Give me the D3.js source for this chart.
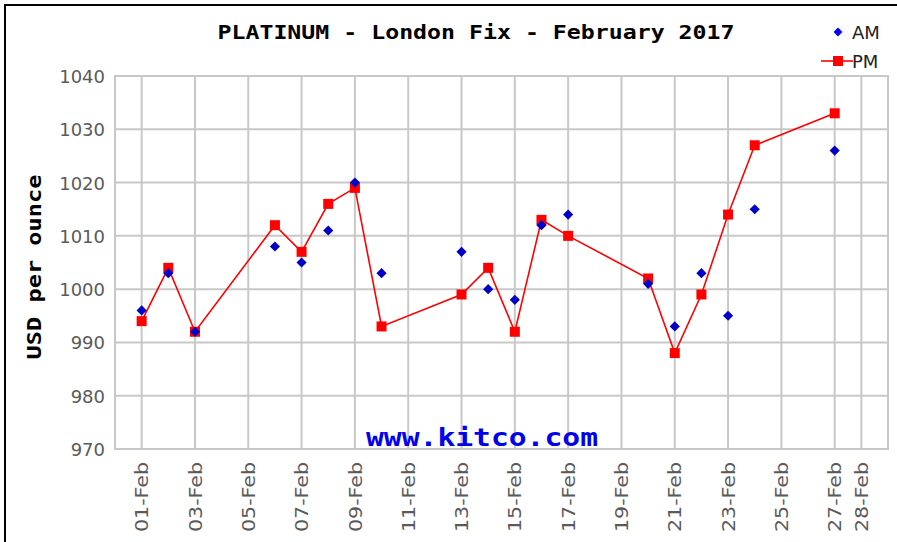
<!DOCTYPE html>
<html>
<head>
<meta charset="utf-8">
<script src="https://cdn.jsdelivr.net/npm/d3@7/dist/d3.min.js"></script>
<style>
  html, body { margin: 0; padding: 0; background: #fff; }
  svg { display: block; }
</style>
</head>
<body>
<svg id="chart" width="897" height="542"></svg>
<script>
// ---- data ----
const dates = ["2017-02-01","2017-02-02","2017-02-03","2017-02-06","2017-02-07","2017-02-08","2017-02-09","2017-02-10",
               "2017-02-13","2017-02-14","2017-02-15","2017-02-16","2017-02-17","2017-02-20","2017-02-21","2017-02-22",
               "2017-02-23","2017-02-24","2017-02-27"];
const amValues = [996,1003,992,1008,1005,1011,1020,1003,1007,1000,998,1012,1014,1001,993,1003,995,1015,1026];
const pmValues = [994,1004,992,1012,1007,1016,1019,993,999,1004,992,1013,1010,1002,988,999,1014,1027,1033];
const xTickDates = ["2017-02-01","2017-02-03","2017-02-05","2017-02-07","2017-02-09","2017-02-11","2017-02-13",
                    "2017-02-15","2017-02-17","2017-02-19","2017-02-21","2017-02-23","2017-02-25","2017-02-27","2017-02-28"];
const yTicks = [970,980,990,1000,1010,1020,1030,1040];
const title = "PLATINUM - London Fix - February 2017";
const yLabel = "USD per ounce";
const watermark = "www.kitco.com";

(function () {
// ---- layout ----
const svg = d3.select("#chart");
const parse = d3.utcParse("%Y-%m-%d");
const fmt = d3.utcFormat("%d-%b");
const pL = 115, pR = 888, pT = 76, pB = 449;

const x = d3.scaleUtc().domain([parse("2017-01-31"), parse("2017-03-01")]).range([pL, pR]);
const y = d3.scaleLinear().domain([970, 1040]).range([pB, pT]);

// outer frame
svg.append("rect").attr("x", 5).attr("y", 5).attr("width", 1000).attr("height", 1000)
  .attr("fill", "none").attr("stroke", "#000").attr("stroke-width", 2);

// grid
const grid = svg.append("g").attr("stroke", "#c8c8c8").attr("stroke-width", 2);
yTicks.forEach(v => grid.append("line").attr("x1", pL).attr("x2", pR).attr("y1", y(v)).attr("y2", y(v)));
xTickDates.forEach(d => grid.append("line").attr("x1", x(parse(d))).attr("x2", x(parse(d))).attr("y1", pT).attr("y2", pB));
grid.append("rect").attr("x", pL).attr("y", pT).attr("width", pR - pL).attr("height", pB - pT).attr("fill", "none");

// axes via d3 (labels only)
const yAxis = d3.axisLeft(y).tickValues(yTicks).tickFormat(d3.format("d")).tickSize(0).tickPadding(10);
const gy = svg.append("g").attr("transform", `translate(${pL},0)`).call(yAxis);
gy.select(".domain").remove();
gy.selectAll("text").attr("font-family", "DejaVu Sans, Verdana, sans-serif").attr("font-size", 18)
  .attr("fill", "#5a5a5a").attr("dy", "0.36em");

const xAxis = d3.axisBottom(x).tickValues(xTickDates.map(parse)).tickFormat(fmt).tickSize(0);
const gx = svg.append("g").attr("transform", `translate(0,${pB})`).call(xAxis);
gx.select(".domain").remove();
gx.selectAll("text")
  .attr("font-family", "DejaVu Sans, Verdana, sans-serif").attr("font-size", 17)
  .attr("fill", "#5a5a5a")
  .attr("text-anchor", "end")
  .attr("transform", "translate(0,13) rotate(-90)")
  .attr("x", 0).attr("y", 0).attr("dy", "0.36em")
  .attr("textLength", 70).attr("lengthAdjust", "spacingAndGlyphs");

// watermark
svg.append("text").attr("x", 482).attr("y", 446).attr("text-anchor", "middle")
  .attr("font-family", "DejaVu Sans Mono, Liberation Mono, monospace").attr("font-weight", "bold")
  .attr("font-size", 25).attr("fill", "#0000ee")
  .attr("textLength", 232).attr("lengthAdjust", "spacingAndGlyphs").text(watermark);

// PM line
const pts = dates.map((d, i) => ({ date: parse(d), am: amValues[i], pm: pmValues[i] }));
const line = d3.line().x(d => x(d.date)).y(d => y(d.pm));
svg.append("path").datum(pts).attr("d", line).attr("fill", "none").attr("stroke", "#ff0000").attr("stroke-width", 1.6);

// PM squares
svg.append("g").selectAll("rect").data(pts).join("rect")
  .attr("x", d => x(d.date) - 5).attr("y", d => y(d.pm) - 5).attr("width", 10).attr("height", 10)
  .attr("fill", "#ff0000");

// AM diamonds
const diamond = d3.symbol().type(d3.symbolDiamond2).size(66);
svg.append("g").selectAll("path").data(pts).join("path")
  .attr("d", diamond).attr("transform", d => `translate(${x(d.date)},${y(d.am)})`)
  .attr("fill", "#0000c8");

// title
svg.append("text").attr("x", 476).attr("y", 39).attr("text-anchor", "middle")
  .attr("font-family", "DejaVu Sans Mono, Liberation Mono, monospace").attr("font-weight", "bold")
  .attr("font-size", 20).attr("fill", "#000")
  .attr("textLength", 517).attr("lengthAdjust", "spacingAndGlyphs").text(title);

// y label
svg.append("text").attr("transform", "translate(41,267) rotate(-90)").attr("text-anchor", "middle")
  .attr("font-family", "DejaVu Sans Mono, Liberation Mono, monospace").attr("font-weight", "bold")
  .attr("font-size", 20).attr("fill", "#000")
  .attr("textLength", 185).attr("lengthAdjust", "spacingAndGlyphs").text(yLabel);

// legend
const lg = svg.append("g");
lg.append("path").attr("d", d3.symbol().type(d3.symbolDiamond2).size(50)).attr("transform", "translate(838,32)").attr("fill", "#0000ff");
lg.append("text").attr("x", 852).attr("y", 39).attr("font-family", "DejaVu Sans, Verdana, sans-serif")
  .attr("font-size", 18).attr("fill", "#222").text("AM");
lg.append("line").attr("x1", 821).attr("x2", 853).attr("y1", 61).attr("y2", 61).attr("stroke", "#ff0000").attr("stroke-width", 1.6);
lg.append("rect").attr("x", 833).attr("y", 56).attr("width", 10).attr("height", 10).attr("fill", "#ff0000");
lg.append("text").attr("x", 852).attr("y", 68).attr("font-family", "DejaVu Sans, Verdana, sans-serif")
  .attr("font-size", 18).attr("fill", "#222").text("PM");
})();
</script>
</body>
</html>
